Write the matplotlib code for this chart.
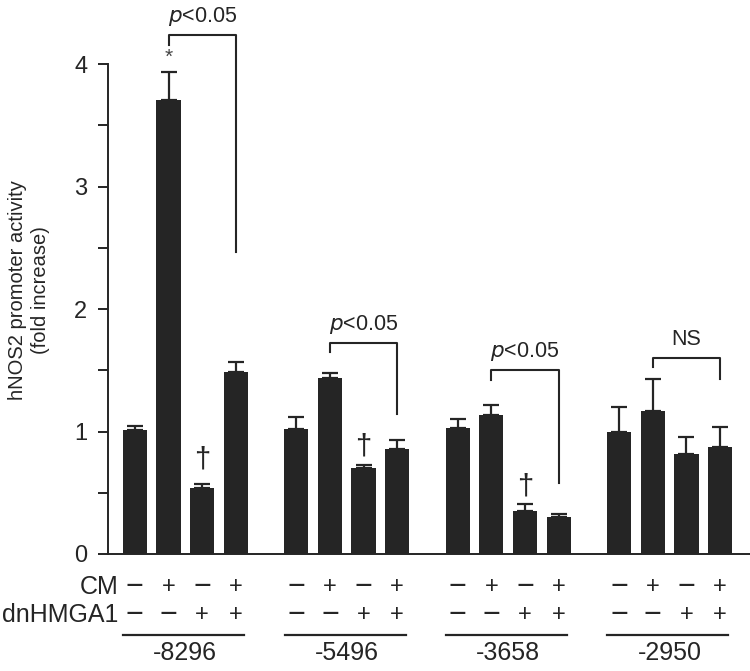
import matplotlib
matplotlib.use('Agg')
import matplotlib.pyplot as plt

plt.rcParams['font.family'] = ['Liberation Sans', 'DejaVu Sans']

# promoter constructs and treatment combos
groups = ['-8296', '-5496', '-3658', '-2950']
cm_signs = ['−', '+', '−', '+']
hmga_signs = ['−', '−', '+', '+']

means = [[1.01, 3.71, 0.54, 1.49],
         [1.02, 1.44, 0.70, 0.86],
         [1.03, 1.135, 0.35, 0.30],
         [1.00, 1.165, 0.82, 0.87]]
errs = [[0.035, 0.23, 0.035, 0.08],
        [0.10, 0.04, 0.025, 0.07],
        [0.075, 0.08, 0.06, 0.03],
        [0.20, 0.265, 0.135, 0.165]]

# brackets: (from bar, to bar, top, left end, right end, label)
brackets = [(1, 3, 4.237, 4.16, 2.465, '$p$<0.05'),
            (1, 3, 1.722, 1.649, 1.143, '$p$<0.05'),
            (1, 3, 1.502, 1.42, 0.582, '$p$<0.05'),
            (1, 3, 1.60, 1.53, 1.426, 'NS')]
daggers = [(0, 2, 0.77), (1, 2, 0.88), (2, 2, 0.55)]
stars = [(0, 1, 4.06)]

gap = 4.8
col = '#252525'

fig = plt.figure(figsize=(7.5, 6.71), dpi=100)
ax = fig.add_axes([108/750, 117/671, 642/750, 551/671])

def sign(x, y, s):
    fs = 22 if s == '−' else 17
    ax.text(x, y, s, ha='center', va='center', fontsize=fs, color=col, clip_on=False)

for g in range(len(groups)):
    xs = [g*gap + i for i in range(4)]
    ax.bar(xs, means[g], width=0.72, color=col, zorder=2)
    ax.errorbar(xs, means[g], yerr=[[0]*4, errs[g]], fmt='none', ecolor=col,
                elinewidth=1.6, capsize=5.5, capthick=1.6, zorder=1)
    for i in range(4):
        sign(xs[i], -0.27, cm_signs[i])
        sign(xs[i], -0.50, hmga_signs[i])
    ax.plot([xs[0]-0.35, xs[3]+0.25], [-0.66, -0.66], color=col, lw=1.6, clip_on=False)
    ax.text((xs[0]+xs[3])/2, -0.81, groups[g], ha='center', va='center', fontsize=18,
            color=col, clip_on=False)

for g, (a, b, top, l, r, lab) in enumerate(brackets):
    xa, xb = g*gap + a, g*gap + b
    ax.plot([xa, xa, xb, xb], [l, top, top, r], color=col, lw=1.5)
    ax.text((xa+xb)/2, top + 0.15, lab, ha='center', va='center', fontsize=15.5, color=col)

for g, i, y in daggers:
    ax.text(g*gap + i, y, '†', ha='center', va='center', fontsize=21, color=col)
for g, i, y in stars:
    ax.text(g*gap + i, y, '*', ha='center', va='center', fontsize=15, color='#444444')

ax.text(-0.5, -0.27, 'CM', ha='right', va='center', fontsize=18, color=col, clip_on=False)
ax.text(-0.5, -0.50, 'dnHMGA1', ha='right', va='center', fontsize=18, color=col, clip_on=False)

fig.text(29/750, 1 - 290/671, 'hNOS2 promoter activity\n(fold increase)', rotation=90,
         ha='center', va='center', fontsize=14.5, color=col, multialignment='center',
         linespacing=1.25)

ax.set_xlim(-0.80, 18.29)
ax.set_ylim(0, 4.5)
ax.set_yticks([0, 1, 2, 3, 4])
ax.set_yticks([0.5, 1.5, 2.5, 3.5], minor=True)
ax.tick_params(axis='y', which='both', length=7, width=1.4, labelsize=17, pad=8,
               color=col, labelcolor=col)
ax.set_xticks([])
ax.spines['top'].set_visible(False)
ax.spines['right'].set_visible(False)
ax.spines['left'].set_bounds(0, 4)
for s in ['left', 'bottom']:
    ax.spines[s].set_linewidth(1.4)
    ax.spines[s].set_color(col)

fig.savefig('out.png', dpi=100)
